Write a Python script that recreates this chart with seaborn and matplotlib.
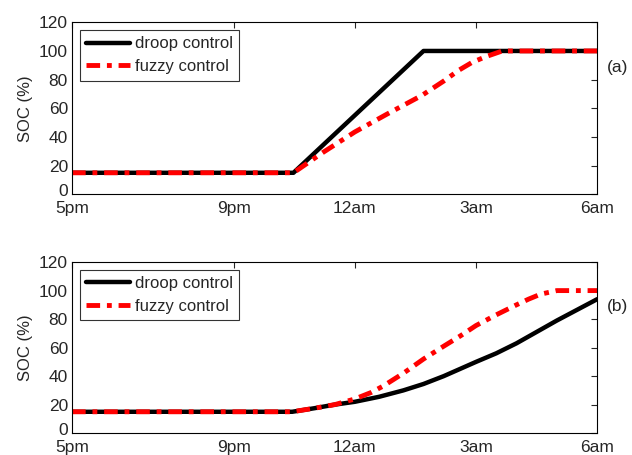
import numpy as np
import pandas as pd
import seaborn as sns
import matplotlib
matplotlib.use("Agg")
import matplotlib.pyplot as plt
import matplotlib.transforms as mtransforms

# hours after 5pm
tick_pos = [0, 4, 7, 10, 13]
tick_labels = ['5pm', '9pm', '12am', '3am', '6am']

# (a)
a_droop_h = [0, 5.48, 8.7, 13]
a_droop_soc = [15, 15, 100, 100]
a_fuzzy_h = [0, 5.48, 6.2, 7.0, 7.8, 8.66, 9.2, 9.57, 9.9, 10.24, 10.65, 13]
a_fuzzy_soc = [15, 15, 29, 43.5, 56, 69, 79, 86.5, 92, 96, 100, 100]

# (b)
b_droop_h = [0, 5.45, 6.0, 6.5, 7.0, 7.6, 8.2, 8.7, 9.2, 9.6, 10.0, 10.5, 11.0, 11.5, 12.0, 12.5, 13.0]
b_droop_soc = [15, 15, 17.5, 20, 22, 25.5, 30, 34.5, 40, 45, 50, 56, 63, 71, 79, 86.5, 94]
b_fuzzy_h = [0, 5.45, 6.0, 6.5, 7.0, 7.4, 7.7, 8.2, 8.7, 9.2, 9.6, 10.0, 10.5, 11.0, 11.3, 11.6, 12.0, 13.0]
b_fuzzy_soc = [15, 15, 17.5, 20, 24, 28.5, 33, 42, 52, 61, 68, 75.5, 83, 90, 94, 97.5, 100, 100]

sns.set_style("white")
plt.rcParams['font.family'] = ['Liberation Sans', 'DejaVu Sans']

fig = plt.figure(figsize=(6.32, 4.55), dpi=100)
ax1 = fig.add_axes([0.114, 0.573, 0.831, 0.378])
ax2 = fig.add_axes([0.114, 0.048, 0.831, 0.376])

panels = [
    (ax1, a_droop_h, a_droop_soc, a_fuzzy_h, a_fuzzy_soc, '(a)'),
    (ax2, b_droop_h, b_droop_soc, b_fuzzy_h, b_fuzzy_soc, '(b)'),
]

for ax, dh, ds, fh, fs, tag in panels:
    sns.lineplot(x=dh, y=ds, ax=ax, color='black', linewidth=3.2, label='droop control')
    sns.lineplot(x=fh, y=fs, ax=ax, color='red', linewidth=3.5, linestyle=(0, (2.8, 1.4, 1, 1.4)), label='fuzzy control')
    ax.set_xlim(0, 13)
    ax.set_ylim(0, 120)
    ax.set_xticks(tick_pos)
    ax.set_xticklabels(tick_labels)
    ax.set_yticks(range(0, 121, 20))
    ax.tick_params(direction='in', top=True, right=True, labelsize=12.5, length=4, width=0.8, pad=3)
    ax.tick_params(axis='x', pad=5)
    ax.set_ylabel('SOC (%)', fontsize=12, labelpad=4)
    for s in ax.spines.values():
        s.set_linewidth(0.8)
        s.set_color('black')
    leg = ax.legend(loc='upper left', fontsize=12, handlelength=2.6, frameon=True, fancybox=False,
                    borderpad=0.4, labelspacing=0.45, handletextpad=0.3, borderaxespad=0.45)
    leg.get_frame().set_edgecolor('black')
    leg.get_frame().set_linewidth(0.8)
    ax.text(1.018, 0.74, tag, transform=ax.transAxes, fontsize=12.5, va='center', ha='left')
    # nudge the "0" label up a little so it doesn't sit on the "5pm" label
    zero_lbl = ax.get_yticklabels()[0]
    zero_lbl.set_transform(zero_lbl.get_transform() +
                           mtransforms.ScaledTranslation(0, 3 / 72, fig.dpi_scale_trans))

fig.savefig('out.png', dpi=100)
